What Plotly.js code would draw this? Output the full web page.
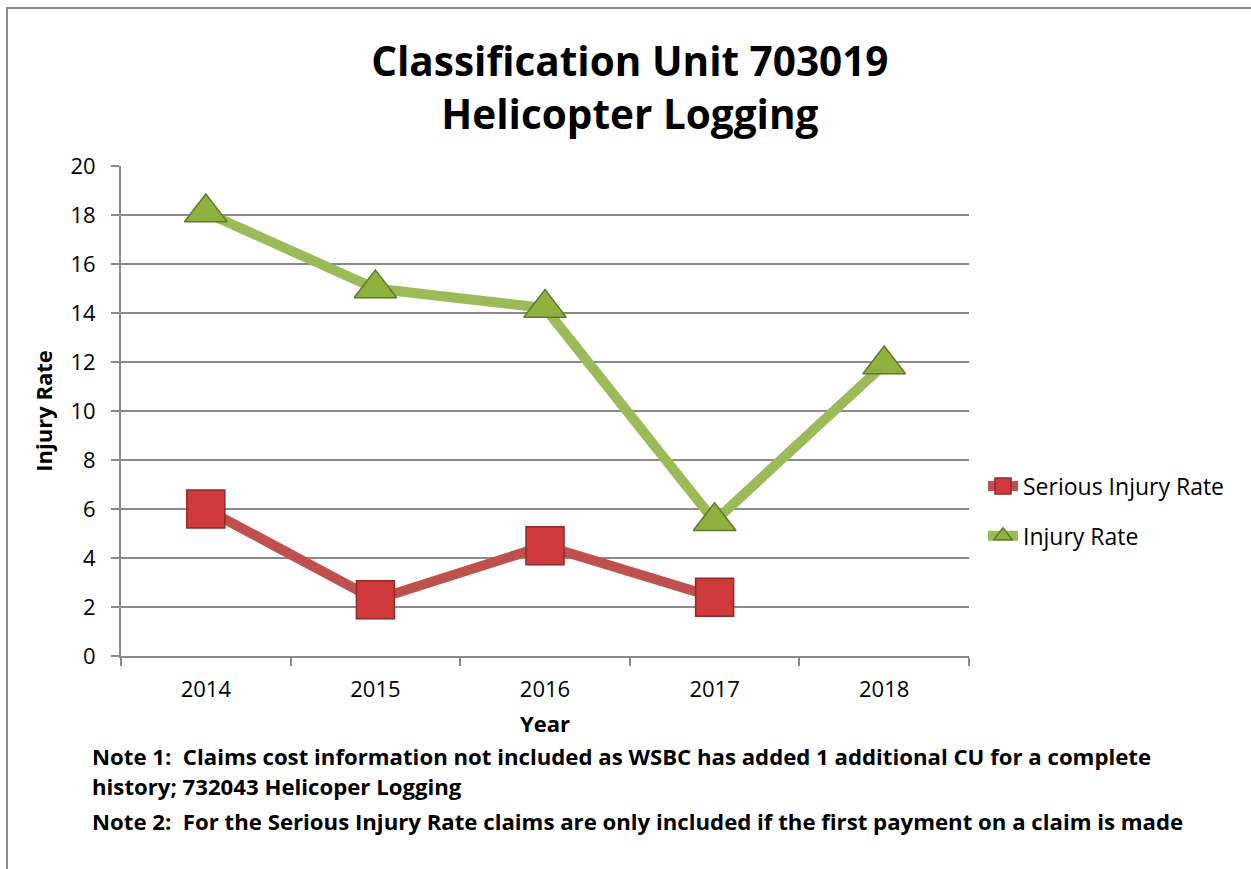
<!DOCTYPE html>
<html>
<head>
<meta charset="utf-8">
<script src="https://cdn.plot.ly/plotly-3.0.1.min.js"></script>
<style>
  html, body { margin: 0; padding: 0; background: #fff; }
  #frame { position: absolute; left: 6px; top: 7px; width: 1245px; height: 862px;
           border-left: 2px solid #8a8a8a; border-top: 2px solid #8a8a8a; pointer-events: none; z-index: 5; }
  #chart { width: 1251px; height: 869px; }
</style>
</head>
<body>
<div id="frame"></div>
<div id="chart"></div>
<script>
const years = ['2014', '2015', '2016', '2017', '2018'];
const seriousInjuryRate = [6.0, 2.3, 4.5, 2.4, null];
const injuryRate = [18.1, 15.0, 14.2, 5.5, 11.9];
const yTicks = [0, 2, 4, 6, 8, 10, 12, 14, 16, 18, 20];
const titleLines = ['Classification Unit 703019', 'Helicopter Logging'];
const notes = [
  'Note 1:  Claims cost information not included as WSBC has added 1 additional CU for a complete',
  'history; 732043 Helicoper Logging',
  'Note 2:  For the Serious Injury Rate claims are only included if the first payment on a claim is made'
];

const FONT = '"Open Sans", Lato, "DejaVu Sans", sans-serif';

const traces = [
  {
    x: years, y: seriousInjuryRate, name: 'Serious Injury Rate', legendgroup: 'a',
    type: 'scatter', mode: 'lines+markers',
    line: { color: '#C0504D', width: 10 },
    marker: { symbol: 'square', size: 38, color: '#D13A3A', line: { color: '#8E2B2B', width: 1.5 } },
    connectgaps: false
  },
  {
    x: years, y: injuryRate, name: 'Injury Rate', legendgroup: 'b',
    type: 'scatter', mode: 'lines+markers',
    line: { color: '#9BBB59', width: 10 },
    marker: { symbol: 'triangle-up', size: 37, color: '#8DB33E', line: { color: '#60782F', width: 1.5 } }
  }
];

const noteY = [756, 787, 821];
const annotations = notes.map((t, i) => ({
  text: '<b>' + t + '</b>', xref: 'paper', yref: 'paper',
  x: (90 - 121) / 848, y: (656 - noteY[i]) / 490,
  xanchor: 'left', yanchor: 'middle', showarrow: false,
  font: { family: FONT, size: 22.2, color: '#000' }
}));

const layout = {
  width: 1251, height: 869,
  margin: { l: 121, r: 282, t: 166, b: 213 },
  paper_bgcolor: '#fff', plot_bgcolor: '#fff',
  font: { family: FONT, color: '#000' },
  title: {
    text: '<b>' + titleLines.join('<br>') + '</b>',
    x: 0.5035, xanchor: 'center', y: 1 - 76 / 869, yanchor: 'middle',
    font: { family: FONT, size: 40.5, color: '#000' }
  },
  xaxis: {
    type: 'category', tickson: 'boundaries', range: [-0.5, 4.5], autorange: false,
    ticks: 'outside', ticklen: 8, tickwidth: 2, tickcolor: '#8a8a8a',
    showline: true, linecolor: '#8a8a8a', linewidth: 2,
    showgrid: false, zeroline: false,
    tickfont: { family: FONT, size: 22, color: '#000' },
    ticklabelstandoff: 13,
    title: { text: '<b>Year</b>', font: { family: FONT, size: 22, color: '#000' }, standoff: 14 }
  },
  yaxis: {
    range: [0, 20], autorange: false, tickvals: yTicks, ticktext: yTicks.map(String),
    ticks: 'outside', ticklen: 8, tickwidth: 2, tickcolor: '#8a8a8a',
    showline: true, linecolor: '#8a8a8a', linewidth: 2,
    showgrid: true, gridcolor: '#8a8a8a', gridwidth: 2,
    zeroline: false,
    tickfont: { family: FONT, size: 22, color: '#000' },
    ticklabelstandoff: 11,
    title: { text: '<b>Injury Rate</b>', font: { family: FONT, size: 22, color: '#000' }, standoff: 12 }
  },
  legend: {
    x: (983 - 121) / 848, xanchor: 'left', y: (656 - 511) / 490, yanchor: 'middle',
    font: { family: FONT, size: 23, color: '#000' },
    tracegroupgap: 17, bgcolor: 'rgba(0,0,0,0)'
  },
  annotations: annotations,
  showlegend: true
};

Plotly.newPlot('chart', traces, layout, { displayModeBar: false, staticPlot: true });
</script>
</body>
</html>
